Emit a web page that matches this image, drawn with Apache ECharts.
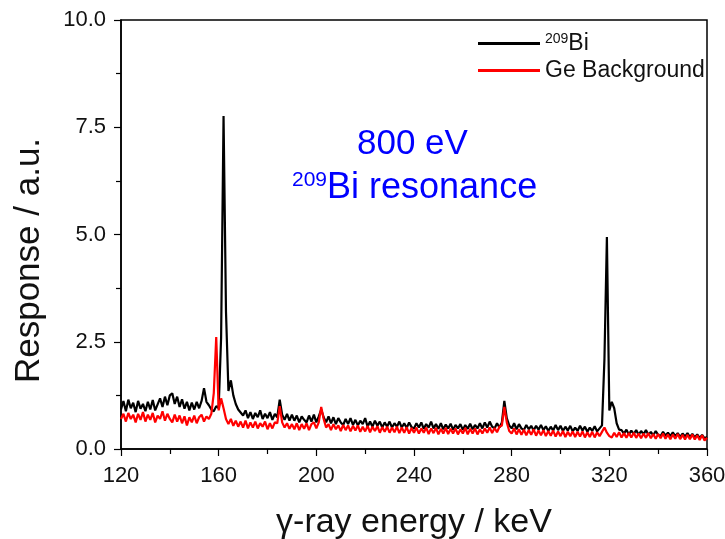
<!DOCTYPE html>
<html>
<head>
<meta charset="utf-8">
<script src="https://cdn.jsdelivr.net/npm/echarts@6/dist/echarts.min.js"></script>
<style>html,body{margin:0;padding:0;background:#fff}#c{width:725px;height:539px}</style>
</head>
<body>
<div id="c"></div>
<script>
// Energy grid: 120 .. 360 keV, 1 keV per channel
const energyStart = 120;
const energyStep = 1;
const xTicks = [120, 160, 200, 240, 280, 320, 360];
const yTicks = [0, 2.5, 5, 7.5, 10];
const seriesNames = ['209Bi', 'Ge Background'];

// 209Bi sample response (120..360)
const biValues = [
 0.92,1.12,0.88,1.15,0.95,1.08,0.86,1.12,0.94,1.05,
 0.88,1.10,0.92,1.14,0.90,1.04,1.18,0.98,1.22,1.02,
 1.25,1.30,1.05,1.22,0.98,1.16,0.94,1.10,0.90,1.08,
 0.92,1.10,0.95,1.12,1.42,1.10,1.02,0.92,0.88,1.00,
 0.95,2.60,7.76,3.20,1.35,1.60,1.25,1.05,0.92,0.85,
 0.78,0.90,0.72,0.86,0.70,0.84,0.74,0.90,0.70,0.82,
 0.72,0.86,0.68,0.82,0.74,1.15,0.80,0.68,0.82,0.66,
 0.80,0.66,0.78,0.62,0.76,0.68,0.62,0.78,0.64,0.80,
 0.62,0.76,0.92,0.74,0.62,0.76,0.60,0.74,0.58,0.72,
 0.62,0.56,0.70,0.58,0.72,0.56,0.68,0.55,0.66,0.58,
 0.72,0.52,0.64,0.52,0.66,0.54,0.64,0.50,0.62,0.52,
 0.64,0.50,0.60,0.52,0.64,0.50,0.60,0.49,0.62,0.51,
 0.48,0.60,0.50,0.62,0.47,0.58,0.50,0.64,0.48,0.58,
 0.47,0.60,0.46,0.57,0.48,0.59,0.45,0.56,0.48,0.58,
 0.45,0.56,0.47,0.59,0.46,0.56,0.48,0.60,0.48,0.62,
 0.50,0.64,0.52,0.48,0.60,0.50,0.62,1.12,0.72,0.55,
 0.48,0.60,0.46,0.58,0.48,0.44,0.56,0.46,0.54,0.43,
 0.54,0.45,0.56,0.44,0.53,0.42,0.52,0.43,0.56,0.44,
 0.54,0.42,0.52,0.43,0.54,0.41,0.50,0.42,0.54,0.43,
 0.52,0.40,0.50,0.42,0.53,0.41,0.48,0.55,2.10,4.94,
 0.90,1.10,0.95,0.60,0.45,0.44,0.36,0.45,0.34,0.43,
 0.35,0.44,0.33,0.42,0.34,0.44,0.33,0.40,0.32,0.42,
 0.33,0.30,0.40,0.31,0.38,0.30,0.39,0.30,0.37,0.28,
 0.36,0.29,0.37,0.28,0.35,0.27,0.34,0.26,0.33,0.25,
 0.28
];

// Ge detector background (120..360)
const geValues = [
 0.70,0.82,0.64,0.84,0.70,0.80,0.62,0.82,0.68,0.86,
 0.64,0.80,0.68,0.84,0.62,0.78,0.70,0.88,0.66,0.82,
 0.70,0.62,0.80,0.64,0.78,0.60,0.76,0.55,0.74,0.62,
 0.78,0.60,0.74,0.80,0.64,0.76,0.70,0.82,1.30,2.61,
 0.90,1.18,0.95,0.70,0.58,0.70,0.54,0.66,0.52,0.64,
 0.50,0.66,0.48,0.62,0.50,0.64,0.48,0.60,0.52,0.64,
 0.46,0.60,0.48,0.62,0.60,1.00,0.62,0.50,0.60,0.47,
 0.58,0.46,0.60,0.44,0.58,0.47,0.60,0.44,0.58,0.62,
 0.48,0.62,0.98,0.70,0.50,0.58,0.44,0.58,0.46,0.55,
 0.42,0.56,0.44,0.55,0.41,0.54,0.43,0.55,0.40,0.52,
 0.41,0.54,0.39,0.52,0.42,0.53,0.38,0.51,0.40,0.52,
 0.38,0.50,0.39,0.52,0.37,0.50,0.38,0.51,0.36,0.49,
 0.38,0.50,0.36,0.48,0.38,0.50,0.35,0.48,0.37,0.49,
 0.34,0.47,0.36,0.49,0.35,0.47,0.36,0.48,0.34,0.46,
 0.36,0.49,0.34,0.47,0.36,0.48,0.34,0.46,0.36,0.48,
 0.38,0.50,0.37,0.49,0.39,0.52,0.55,0.98,0.62,0.42,
 0.36,0.48,0.34,0.46,0.33,0.45,0.32,0.44,0.33,0.46,
 0.31,0.43,0.32,0.44,0.30,0.42,0.31,0.43,0.29,0.41,
 0.30,0.42,0.28,0.40,0.30,0.41,0.28,0.40,0.29,0.41,
 0.27,0.39,0.28,0.40,0.27,0.39,0.30,0.40,0.50,0.38,
 0.30,0.27,0.38,0.28,0.39,0.27,0.37,0.26,0.37,0.27,
 0.38,0.26,0.36,0.25,0.36,0.26,0.37,0.25,0.35,0.24,
 0.35,0.25,0.36,0.24,0.34,0.23,0.34,0.24,0.35,0.23,
 0.33,0.22,0.33,0.23,0.34,0.22,0.32,0.21,0.32,0.20,
 0.26
];

const toPairs = vals => vals.map((v, i) => [energyStart + i * energyStep, v]);

const FONT = '"Liberation Sans", Arial, sans-serif';
const chart = echarts.init(document.getElementById('c'), null, {renderer: 'canvas'});

chart.setOption({
  animation: false,
  backgroundColor: '#fff',
  grid: {left: 121, right: 18, top: 20, bottom: 90, outerBoundsMode: 'none', containLabel: false,
         show: true, borderColor: '#000', borderWidth: 1.5, backgroundColor: 'transparent'},
  xAxis: {
    type: 'value', min: xTicks[0], max: xTicks[xTicks.length - 1], interval: 40,
    name: 'γ-ray energy / keV', nameLocation: 'middle', nameGap: 57,
    nameTextStyle: {fontFamily: FONT, fontSize: 34, color: '#111'},
    axisLine: {show: true, lineStyle: {color: '#000', width: 1.5}},
    axisTick: {show: true, length: 7, inside: false, lineStyle: {color: '#000', width: 1.2}},
    minorTick: {show: true, splitNumber: 2, length: 5, lineStyle: {color: '#000', width: 1.2}},
    axisLabel: {fontFamily: FONT, fontSize: 22, color: '#111', margin: 16},
    splitLine: {show: false}
  },
  yAxis: {
    type: 'value', min: yTicks[0], max: yTicks[yTicks.length - 1], interval: 2.5,
    name: 'Response / a.u.', nameLocation: 'middle', nameGap: 74,
    nameTextStyle: {fontFamily: FONT, fontSize: 35, color: '#111', padding: [0, 52, 0, 0]},
    axisLine: {show: true, lineStyle: {color: '#000', width: 1.5}},
    axisTick: {show: true, length: 7, inside: false, lineStyle: {color: '#000', width: 1.2}},
    minorTick: {show: true, splitNumber: 2, length: 5, lineStyle: {color: '#000', width: 1.2}},
    axisLabel: {fontFamily: FONT, fontSize: 22, color: '#111', margin: 15, formatter: v => v.toFixed(1)},
    splitLine: {show: false}
  },
  legend: {
    show: true, orient: 'vertical', left: 473, top: 27, itemGap: 4,
    itemWidth: 62, itemHeight: 3, icon: 'rect',
    data: seriesNames,
    formatter: name => name === '209Bi' ? '{sup|209}{b|Bi}' : '{b|' + name + '}',
    textStyle: {
      fontFamily: FONT, fontSize: 23, color: '#111',
      rich: {
        sup: {fontFamily: FONT, fontSize: 14, color: '#111', lineHeight: 22, verticalAlign: 'top', padding: [0, 0, 6, 0]},
        b: {fontFamily: FONT, fontSize: 23, color: '#111', lineHeight: 22}
      }
    }
  },
  graphic: [
    {type: 'text', left: 357, top: 127, style: {text: '800 eV', fontFamily: FONT, fontSize: 35, fill: '#0000ff'}},
    {type: 'text', left: 292, top: 170, style: {
      text: '{s|209}{m|Bi resonance}', fontFamily: FONT,
      rich: {
        s: {fontFamily: FONT, fontSize: 21, fill: '#0000ff', color: '#0000ff', padding: [0, 0, 15, 0]},
        m: {fontFamily: FONT, fontSize: 36, fill: '#0000ff', color: '#0000ff'}
      }
    }}
  ],
  series: [
    {name: seriesNames[0], type: 'line', data: toPairs(biValues), showSymbol: false, symbol: 'none',
     lineStyle: {color: '#000', width: 2.2}, itemStyle: {color: '#000'}, z: 2},
    {name: seriesNames[1], type: 'line', data: toPairs(geValues), showSymbol: false, symbol: 'none',
     lineStyle: {color: '#ff0000', width: 2.2}, itemStyle: {color: '#ff0000'}, z: 3}
  ]
});
</script>
</body>
</html>
